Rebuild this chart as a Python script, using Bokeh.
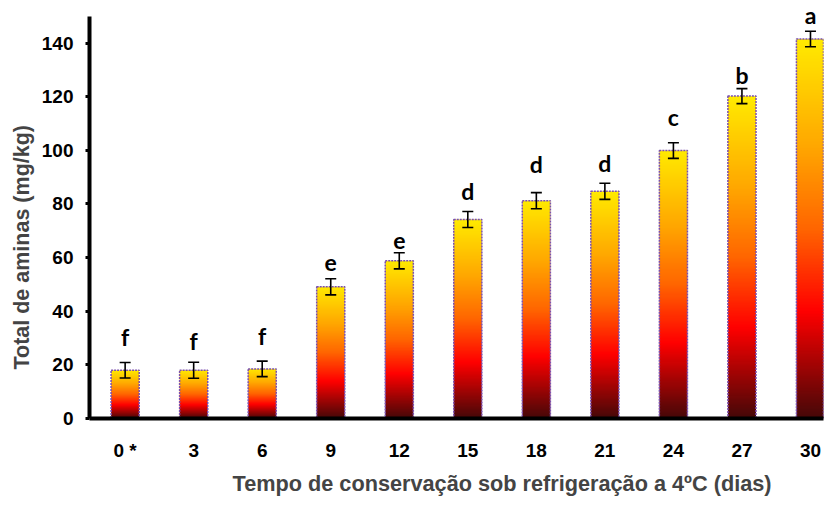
import numpy as np
from bokeh.plotting import figure
from bokeh.models import (Range1d, FixedTicker, Whisker, ColumnDataSource, Title,
                          TeeHead, LabelSet)
from bokeh.core.properties import value
from bokeh.embed import file_html
from bokeh.resources import INLINE

# ---- data ----
days = ["0 *", "3", "6", "9", "12", "15", "18", "21", "24", "27", "30"]
amines = [18.0, 18.0, 18.5, 49.1, 58.8, 74.2, 81.2, 84.7, 99.9, 120.2, 141.5]
errors = [2.9, 3.0, 2.9, 3.0, 3.0, 3.0, 3.0, 3.0, 2.9, 2.8, 2.9]
letters = ["f", "f", "f", "e", "e", "d", "d", "d", "c", "b", "a"]
letter_y = [26.7, 25.2, 27.2, 56.3, 64.7, 81.2, 91.0, 91.4, 108.6, 124.3, 146.6]
y_ticks = [0, 20, 40, 60, 80, 100, 120, 140]
y_max = 150

FONT = "Liberation Sans"
xs = np.arange(len(days), dtype=float)
bar_w = 0.41

p = figure(width=825, height=500, output_backend="svg", toolbar_location=None,
           x_range=Range1d(-0.52, 10.19), y_range=Range1d(0, 155.85),
           min_border_left=89, min_border_right=2, min_border_top=0, min_border_bottom=74)
p.outline_line_color = None
p.xgrid.grid_line_color = None
p.ygrid.grid_line_color = None
p.background_fill_color = "white"
p.border_fill_color = "white"

# ---- gradient bars ----
stops = [(0.0, (70, 8, 8)), (0.28, (255, 0, 0)), (0.5, (255, 102, 0)),
         (0.72, (255, 168, 0)), (1.0, (255, 235, 0))]
n = 256
t = np.linspace(0, 1, n)
pos = [s[0] for s in stops]
rgb = np.array([s[1] for s in stops], dtype=float)
r = np.interp(t, pos, rgb[:, 0]).astype(np.uint32)
g = np.interp(t, pos, rgb[:, 1]).astype(np.uint32)
b = np.interp(t, pos, rgb[:, 2]).astype(np.uint32)
grad = ((255 << 24) | (b << 16) | (g << 8) | r).astype(np.uint32).reshape(n, 1)

p.image_rgba(image=[grad] * len(days), x=list(xs - bar_w / 2), y=[0] * len(days),
             dw=[bar_w] * len(days), dh=amines)

src = ColumnDataSource(dict(x=xs, top=amines,
                            upper=np.array(amines) + np.array(errors),
                            lower=np.array(amines) - np.array(errors),
                            lab=letters, ly=letter_y))
p.vbar(x="x", top="top", width=bar_w, bottom=0, source=src, fill_color=None,
       line_color="#7a4fb0", line_width=1.5, line_dash="2 1")

w = Whisker(base="x", upper="upper", lower="lower", source=src,
            line_color="black", line_width=1.6, level="overlay",
            upper_head=TeeHead(size=11, line_color="black", line_width=1.6),
            lower_head=TeeHead(size=11, line_color="black", line_width=1.6))
p.add_layout(w)

labels = LabelSet(x="x", y="ly", text="lab", source=src, text_align="center",
                  text_baseline="bottom", text_font=value("Lato"),
                  text_font_style="bold", text_font_size=value("23px"),
                  text_color="black", y_offset=-4)
p.add_layout(labels)

# ---- axes ----
p.xaxis.ticker = FixedTicker(ticks=list(xs))
p.xaxis.major_label_overrides = {int(i): d for i, d in enumerate(days)}
p.xaxis.axis_line_width = 4
p.xaxis.major_tick_out = 0
p.xaxis.major_tick_in = 0
p.xaxis.minor_tick_out = 0
p.xaxis.major_label_standoff = 21

p.yaxis.ticker = FixedTicker(ticks=y_ticks)
p.yaxis.bounds = (0, y_max)
p.yaxis.axis_line_width = 4
p.yaxis.major_tick_out = 4
p.yaxis.major_tick_in = 0
p.yaxis.major_tick_line_width = 3
p.yaxis.minor_tick_out = 0
p.yaxis.minor_tick_in = 0
p.yaxis.major_label_standoff = 12

for ax in (p.xaxis, p.yaxis):
    ax.major_label_text_font = FONT
    ax.major_label_text_font_style = "bold"
    ax.major_label_text_font_size = "19px"
    ax.major_label_text_color = "black"
    ax.axis_line_color = "black"

p.add_layout(Title(text="Tempo de conservação sob refrigeração a 4ºC (dias)",
                   align="left", offset=143, text_font=FONT, text_font_style="bold",
                   text_font_size="21.7px", standoff=10), "below")
p.add_layout(Title(text="Total de aminas (mg/kg)", align="left", offset=49,
                   text_font=FONT, text_font_style="bold", text_font_size="21.5px"), "left")

open("out.html", "w").write(file_html(p, INLINE))
